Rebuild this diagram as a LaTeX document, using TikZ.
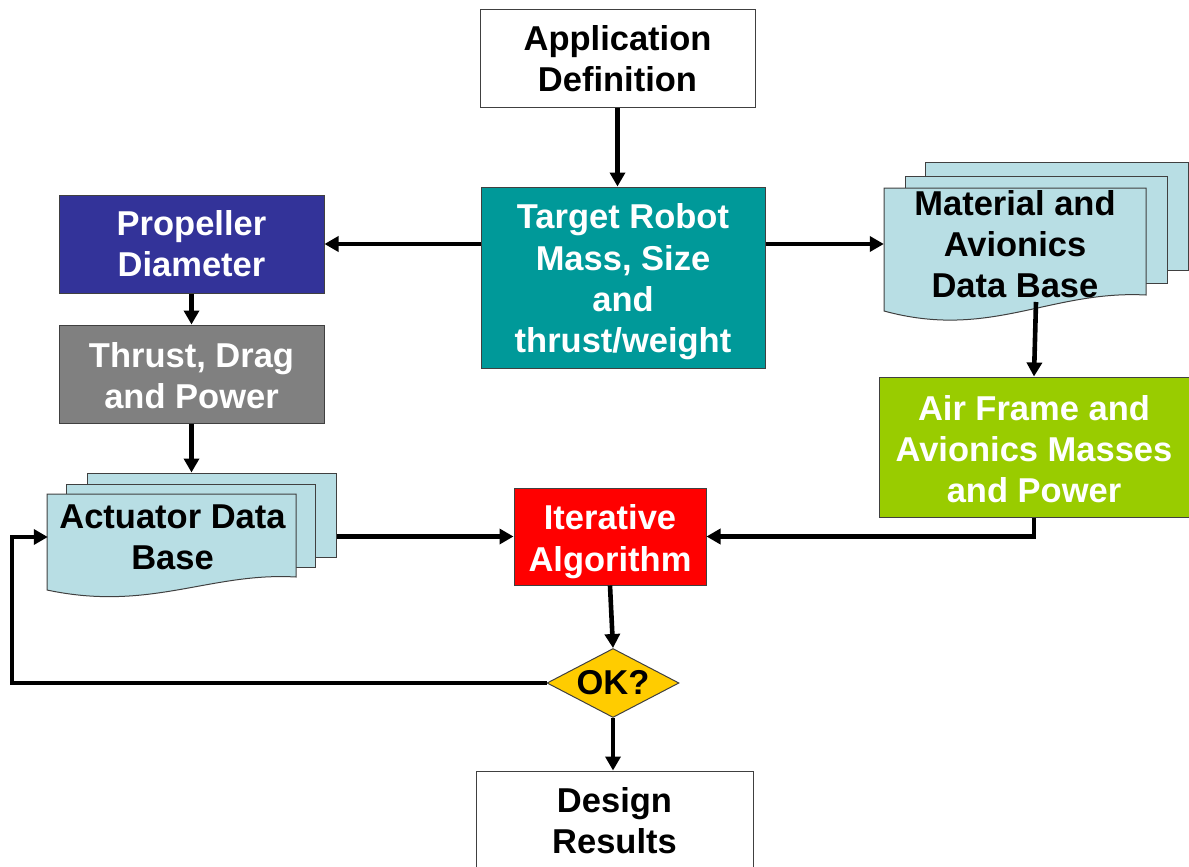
\documentclass[tikz,border=0pt]{standalone}
\usepackage{fontspec}
\setmainfont{Liberation Sans}
\usetikzlibrary{arrows.meta,shapes.geometric}
\definecolor{tealbox}{RGB}{0,153,153}
\definecolor{propblue}{RGB}{51,51,153}
\definecolor{thrustgray}{RGB}{128,128,128}
\definecolor{docblue}{RGB}{184,222,228}
\definecolor{airgreen}{RGB}{153,204,0}
\definecolor{iterred}{RGB}{255,0,0}
\definecolor{okgold}{RGB}{255,204,0}
\begin{document}
\begin{tikzpicture}[x=1pt,y=-1pt,
  box/.style={draw=black!75, line width=1pt, inner sep=0pt, align=center,
    font=\bfseries\fontsize{34.5}{41.3}\selectfont},
  wbox/.style={box, fill=white, text=black},
  cbox/.style={box, text=white},
  ghost/.style={inner sep=0pt, align=center, text=black,
    font=\bfseries\fontsize{34.5}{41.3}\selectfont},
  sheet/.style={draw=black!75, line width=1pt, fill=docblue},
  conn/.style={line width=4.6pt, -{Triangle[length=14pt,width=15pt]}}]
\useasboundingbox (0,0) rectangle (1189,867);
\clip (0,0) rectangle (1189,867);

% plain boxes
\node[wbox, minimum width=275, minimum height=97] (app) at (617.5,58.5) {Application\\Definition};
\node[cbox, fill=tealbox, minimum width=284, minimum height=181] (target) at (623,277.5) {\rule{0pt}{34pt}Target Robot\\Mass, Size\\and\\thrust/weight};
\node[cbox, fill=propblue, minimum width=265, minimum height=98] (prop) at (191.5,244) {Propeller\\Diameter};
\node[cbox, fill=thrustgray, minimum width=265, minimum height=98] (thrust) at (191.5,374) {\rule{0pt}{28pt}Thrust, Drag\\and Power};
\node[cbox, fill=airgreen, minimum width=310, minimum height=140] (air) at (1034,447) {\rule{0pt}{29pt}Air Frame and\\Avionics Masses\\and Power};
\node[cbox, fill=iterred, minimum width=192, minimum height=97] (iter) at (610,536.5) {\rule{0pt}{35pt}Iterative\\Algorithm};
\node[box, diamond, aspect=1.9, fill=okgold, text=black, minimum width=132, minimum height=69] (ok) at (613,683) {OK?};
\node[wbox, minimum width=277, minimum height=100] (design) at (614.5,821) {Design\\Results};

% actuator data base (stacked documents)
\node[sheet, minimum width=249, minimum height=84, inner sep=0pt] (act3) at (211.5,515) {};
\node[sheet, minimum width=249, minimum height=83, inner sep=0pt] (act2) at (191,525.5) {};
\path[sheet] (47,494) -- (296,494) -- (296,577)
  .. controls (210,572) and (150,612) .. (47,590) -- cycle;
\node[ghost, minimum width=249, minimum height=86] (act1) at (172.5,537) {Actuator Data\\Base};

% material and avionics data base (stacked documents)
\node[sheet, minimum width=263, minimum height=108, inner sep=0pt] (mat3) at (1056.5,216) {};
\node[sheet, minimum width=262, minimum height=107, inner sep=0pt] (mat2) at (1036,229.5) {};
\path[sheet] (884,188) -- (1146,188) -- (1146,295)
  .. controls (1050,290) and (990,340) .. (884,311) -- cycle;
\node[ghost, minimum width=262, minimum height=112] (mat1) at (1015,244) {Material and\\Avionics\\Data Base};
\coordinate (matbot) at (1036,302);
\coordinate (loopc) at (12,683);

% connectors
\draw[conn] (app.south) -- (app.south |- target.north);
\draw[conn] (prop.east -| target.west) -- (prop.east);
\draw[conn] (mat1.west -| target.east) -- (mat1.west);
\draw[conn] (prop.south) -- (thrust.north);
\draw[conn] (thrust.south) -- (thrust.south |- act3.north);
\draw[conn] (act3.east |- iter.west) -- (iter.west);
\draw[conn] (matbot) -- (air.north);
\draw[conn] (air.south) |- (iter.east);
\draw[conn] (iter.south) -- (ok.north);
\draw[conn] (ok.south) -- (ok.south |- design.north);
\draw[conn] (ok.west) -- (loopc) |- (act1.west);
\end{tikzpicture}
\end{document}
